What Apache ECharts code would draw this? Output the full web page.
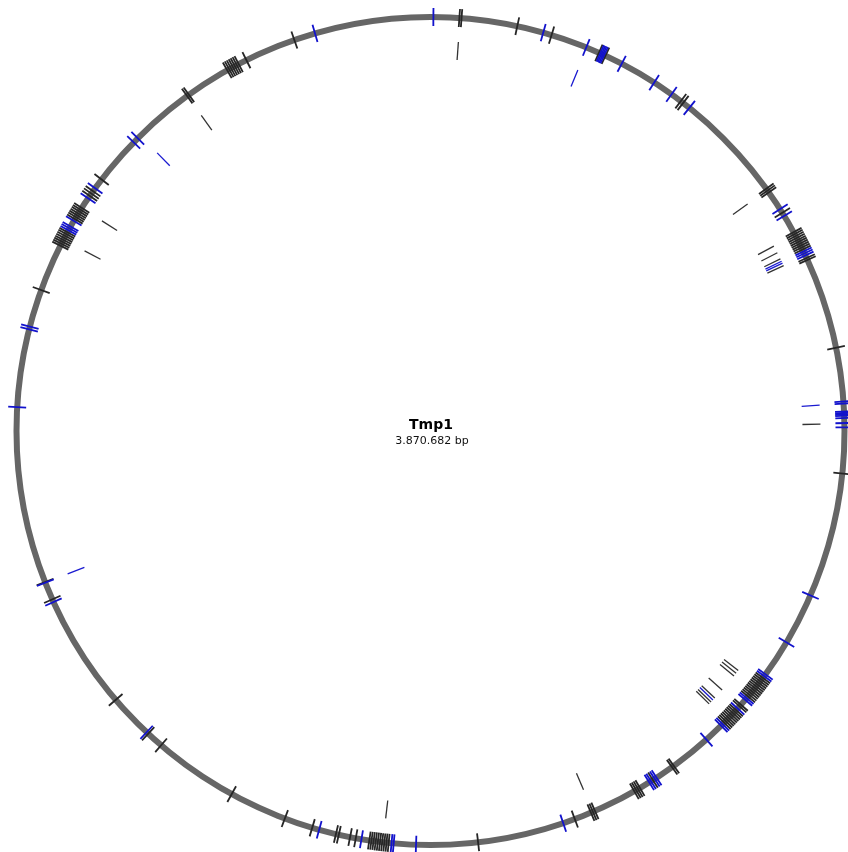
<!DOCTYPE html>
<html>
<head>
<meta charset="utf-8">
<script src="https://cdn.jsdelivr.net/npm/echarts@6/dist/echarts.min.js"></script>
<style>
  html, body { margin: 0; padding: 0; background: #fff; }
  #chart { width: 848px; height: 852px; }
</style>
</head>
<body>
<div id="chart"></div>
<script>
// Genome map of Tmp1: feature positions in bp along the circular chromosome.
const genomeName = 'Tmp1';
const genomeLength = 3870682;
const genomeLabel = '3.870.682 bp';

// Features on the backbone (black = one feature class, blue = the other)
const outerBlack = [
  43008, 46233, 130098, 182782, 258046, 268798, 399971, 404271,
  582753, 585979, 589204, 625761,
  659091, 662317, 665543, 668768, 671994, 675219, 678445, 681670, 684896, 688122, 702099, 705325,
  842949, 1031107,
  1361191, 1364416, 1367642, 1370867, 1374093, 1377318, 1380544, 1383770, 1386995, 1390221, 1393446, 1396672,
  1412800, 1416025,
  1423552, 1426777, 1430003, 1433228, 1436454, 1439680, 1442905, 1446131, 1449356,
  1548274, 1551499, 1585905, 1608484, 1611710, 1614935, 1618161,
  1683748, 1686973, 1690199, 1716003, 1864379,
  1997703, 2000929, 2004154, 2007380, 2010605, 2013831, 2017056, 2020282, 2023508, 2026733,
  2047162, 2055763, 2072966, 2077267, 2113824, 2156831, 2243922,
  2371869, 2397674, 2467561, 2644967, 2672922, 3116976,
  3189014, 3192239, 3195465, 3198690, 3201916, 3205141, 3208367, 3211593,
  3234172, 3237397, 3240623, 3243848, 3247074, 3250299, 3253525,
  3275029, 3279330, 3283630, 3305134, 3483616, 3486841,
  3554578, 3557804, 3561029, 3564255, 3567480, 3570706, 3573932, 3586834, 3664248
];
const outerBlue = [
  4301, 169880, 237617, 260196, 262346, 264497, 266647, 295677, 351587, 382768, 416099,
  619309, 631137, 691347, 694573, 697798,
  923588, 926814, 938641, 940791, 942942, 945092, 948318, 955844, 962295,
  1219265, 1297754, 1354739, 1357965, 1399897, 1403123, 1420326, 1452582, 1455807, 1485913,
  1579454, 1582680, 1589131, 1592356, 1734281, 1956846, 1990177, 1993402, 2038560, 2103072,
  2400899, 2640667, 2671847, 2938494, 3055690, 3059991,
  3214818, 3218044, 3221269, 3230946, 3270728, 3289006, 3378247, 3386849, 3696503
];

// Features on the inner track
const innerBlack = [
  44083, 584903, 663392, 675219, 685971, 697798, 956919,
  1375168, 1380544, 1385920, 1414950, 1432153, 1440755, 1445055,
  1686973, 2006305, 3198690, 3253525, 3483616
];
const innerBlue = [
  238692, 690272, 693498, 926814, 1436454, 2671847, 3392225
];

const outerTrack = [405, 423];
const innerTrack = [372, 390];

function toItems(arr, track) {
  return arr.map(function (p) { return [(track[0] + track[1]) / 2, p]; });
}

function tickSeries(name, arr, track, color, width) {
  return {
    type: 'custom',
    name: name,
    coordinateSystem: 'polar',
    encode: { radius: 0, angle: 1 },
    silent: true,
    data: toItems(arr, track),
    renderItem: function (params, api) {
      const pos = api.value(1);
      const a = api.coord([track[0], pos]);
      const b = api.coord([track[1], pos]);
      return {
        type: 'line',
        shape: { x1: a[0], y1: a[1], x2: b[0], y2: b[1] },
        style: { stroke: color, lineWidth: width, lineCap: 'butt' }
      };
    }
  };
}

const chart = echarts.init(document.getElementById('chart'), null, { renderer: 'canvas' });

chart.setOption({
  backgroundColor: '#ffffff',
  animation: false,
  polar: { center: [430.5, 431], radius: 414 },
  angleAxis: {
    type: 'value',
    min: 0,
    max: genomeLength,
    startAngle: 90,
    clockwise: true,
    axisLine: { show: true, lineStyle: { color: '#666666', width: 6 } },
    axisTick: { show: false },
    axisLabel: { show: false },
    splitLine: { show: false }
  },
  radiusAxis: {
    type: 'value',
    min: 0,
    max: 414,
    axisLine: { show: false },
    axisTick: { show: false },
    axisLabel: { show: false },
    splitLine: { show: false }
  },
  graphic: [
    {
      type: 'text', x: 431, y: 425, silent: true,
      style: {
        text: genomeName, textAlign: 'center', textVerticalAlign: 'middle',
        font: 'bold 14px "DejaVu Sans"', fill: '#000'
      }
    },
    {
      type: 'text', x: 432, y: 441, silent: true,
      style: {
        text: genomeLabel, textAlign: 'center', textVerticalAlign: 'middle',
        font: '11px "DejaVu Sans"', fill: '#111'
      }
    }
  ],
  series: [
    tickSeries('outer-black', outerBlack, outerTrack, '#262626', 1.8),
    tickSeries('inner-black', innerBlack, innerTrack, '#333333', 1.3),
    tickSeries('outer-blue', outerBlue, outerTrack, '#1212cc', 1.8),
    tickSeries('inner-blue', innerBlue, innerTrack, '#1a1ad0', 1.3)
  ]
});
</script>
</body>
</html>
